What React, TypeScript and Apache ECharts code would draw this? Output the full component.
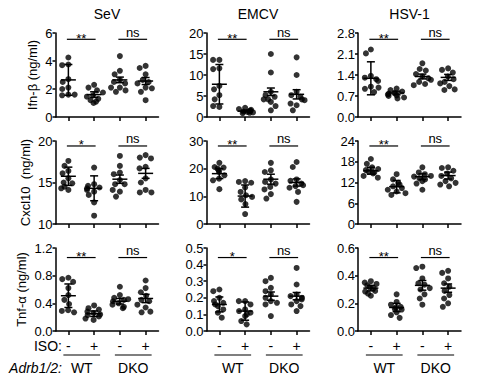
import React, { useEffect, useRef } from "react";
import * as echarts from "echarts";

const groups = ["WT -", "WT +", "DKO -", "DKO +"];
const isoSigns = ["-", "+", "-", "+"];
const genotypes = ["WT", "DKO"];
const viruses = ["SeV", "EMCV", "HSV-1"];
const yTitles = ["Ifn-β (ng/ml)", "Cxcl10  (ng/ml)", "Tnf-α (ng/ml)"];

// ---- Ifn-β ----
const ifnSeV = [
  [4.25, 3.75, 3.7, 2.7, 2.5, 2.1, 2.0, 1.6, 1.55, 1.6],
  [2.3, 2.1, 1.9, 1.75, 1.55, 1.45, 1.3, 1.2, 1.0, 1.1],
  [4.35, 3.3, 3.05, 2.65, 2.5, 2.4, 2.1, 2.1, 1.9, 1.8],
  [3.65, 3.5, 3.05, 2.65, 2.5, 2.4, 2.1, 2.05, 1.8, 1.2],
];
const ifnSeVMean = [2.65, 1.6, 2.65, 2.57];
const ifnSeVErr = [1.1, 0.2, 0.2, 0.25];
const ifnSeVTicks = [0, 2, 4, 6];

const ifnEMCV = [
  [13.6, 13.6, 11.6, 11.4, 7.4, 6.6, 5.2, 4.2, 2.4, 2.6],
  [2.2, 1.9, 1.7, 1.5, 1.3, 1.2, 1.1, 1.0, 0.9, 1.4],
  [15.0, 10.6, 6.0, 5.2, 4.8, 4.2, 4.2, 3.6, 2.6, 1.6],
  [14.2, 10.0, 6.0, 5.2, 4.8, 4.2, 4.0, 2.8, 1.6, 3.2],
];
const ifnEMCVMean = [7.8, 1.4, 6.0, 5.4];
const ifnEMCVErr = [4.7, 0.2, 0.9, 1.1];
const ifnEMCVTicks = [0, 5, 10, 15, 20];

const ifnHSV = [
  [2.25, 2.12, 1.37, 1.31, 1.26, 1.2, 1.01, 0.94, 0.83, 0.98],
  [0.95, 0.9, 0.85, 0.8, 0.78, 0.75, 0.72, 0.7, 0.65, 0.62],
  [1.79, 1.6, 1.55, 1.43, 1.35, 1.29, 1.24, 1.17, 1.1, 1.06],
  [1.62, 1.57, 1.48, 1.35, 1.26, 1.17, 1.12, 1.03, 0.9, 0.92],
];
const ifnHSVMean = [1.29, 0.8, 1.35, 1.32];
const ifnHSVErr = [0.55, 0.06, 0.08, 0.1];
const ifnHSVTicks = [0, 0.7, 1.4, 2.1, 2.8];

// ---- Cxcl10 ----
const cxclSeV = [
  [17.6, 17.0, 16.4, 16.1, 15.5, 15.0, 14.9, 14.5, 14.1, 14.3],
  [16.8, 14.8, 14.6, 14.4, 14.3, 14.1, 13.9, 13.5, 12.6, 11.0],
  [18.2, 17.0, 16.2, 16.0, 15.3, 14.8, 14.8, 13.9, 13.3, 14.1],
  [18.3, 18.0, 17.9, 16.9, 16.7, 15.5, 15.0, 14.1, 13.8, 13.8],
];
const cxclSeVMean = [15.75, 14.3, 15.4, 16.1];
const cxclSeVErr = [1.1, 1.5, 0.5, 0.6];
const cxclSeVTicks = [10, 15, 20];

const cxclEMCV = [
  [22.1, 20.6, 20.4, 20.0, 19.4, 18.8, 17.6, 16.4, 15.8, 12.6],
  [15.5, 15.2, 14.9, 13.2, 11.6, 10.4, 9.8, 8.9, 7.2, 3.6],
  [22.1, 19.4, 18.8, 16.1, 15.2, 14.6, 13.4, 12.5, 10.8, 9.2],
  [22.4, 20.6, 16.1, 15.6, 14.6, 14.0, 13.7, 13.1, 11.6, 8.0],
];
const cxclEMCVMean = [18.2, 10.1, 16.2, 15.0];
const cxclEMCVErr = [1.8, 4.0, 1.8, 1.3];
const cxclEMCVTicks = [0, 10, 20, 30];

const cxclHSV = [
  [18.8, 17.4, 16.4, 15.9, 15.6, 15.2, 14.6, 13.9, 13.4, 14.9],
  [14.4, 12.9, 11.9, 10.9, 10.4, 9.9, 9.4, 8.9, 8.4, 11.4],
  [16.4, 14.9, 14.4, 13.9, 13.7, 13.2, 12.4, 11.7, 9.9, 12.9],
  [16.4, 16.2, 15.4, 14.6, 13.9, 13.2, 12.4, 11.9, 10.9, 11.4],
];
const cxclHSVMean = [15.4, 10.8, 13.7, 14.0];
const cxclHSVErr = [1.0, 1.8, 0.8, 1.0];
const cxclHSVTicks = [0, 6, 12, 18, 24];

// ---- Tnf-α ----
const tnfSeV = [
  [0.77, 0.75, 0.71, 0.62, 0.52, 0.45, 0.39, 0.3, 0.27, 0.29],
  [0.37, 0.33, 0.31, 0.28, 0.26, 0.23, 0.21, 0.18, 0.16, 0.24],
  [0.64, 0.52, 0.48, 0.45, 0.43, 0.4, 0.38, 0.35, 0.33, 0.46],
  [0.73, 0.62, 0.56, 0.51, 0.45, 0.43, 0.38, 0.34, 0.27, 0.28],
];
const tnfSeVMean = [0.51, 0.25, 0.43, 0.47];
const tnfSeVErr = [0.17, 0.04, 0.04, 0.06];
const tnfSeVTicks = [0, 0.4, 0.8, 1.2];

const tnfEMCV = [
  [0.25, 0.24, 0.2, 0.18, 0.17, 0.16, 0.15, 0.13, 0.11, 0.08],
  [0.18, 0.18, 0.16, 0.13, 0.12, 0.11, 0.09, 0.06, 0.04, 0.1],
  [0.32, 0.3, 0.26, 0.24, 0.22, 0.2, 0.18, 0.17, 0.16, 0.09],
  [0.38, 0.28, 0.22, 0.21, 0.2, 0.19, 0.18, 0.16, 0.12, 0.15],
];
const tnfEMCVMean = [0.16, 0.12, 0.21, 0.21];
const tnfEMCVErr = [0.045, 0.055, 0.025, 0.022];
const tnfEMCVTicks = [0, 0.1, 0.2, 0.3, 0.4, 0.5];

const tnfHSV = [
  [0.36, 0.35, 0.34, 0.33, 0.315, 0.31, 0.29, 0.285, 0.27, 0.255],
  [0.265, 0.21, 0.19, 0.175, 0.17, 0.16, 0.155, 0.135, 0.115, 0.095],
  [0.465, 0.455, 0.38, 0.345, 0.335, 0.31, 0.3, 0.265, 0.235, 0.19],
  [0.435, 0.42, 0.38, 0.345, 0.32, 0.29, 0.26, 0.235, 0.2, 0.175],
];
const tnfHSVMean = [0.31, 0.17, 0.33, 0.31];
const tnfHSVErr = [0.02, 0.03, 0.035, 0.03];
const tnfHSVTicks = [0, 0.2, 0.4, 0.6];

const sigSeVIfn = ["**", "ns"];
const sigEMCVIfn = ["**", "ns"];
const sigHSVIfn = ["**", "ns"];
const sigSeVCxcl = ["*", "ns"];
const sigEMCVCxcl = ["**", "ns"];
const sigHSVCxcl = ["**", "ns"];
const sigSeVTnf = ["**", "ns"];
const sigEMCVTnf = ["*", "ns"];
const sigHSVTnf = ["**", "ns"];

const panels = [
  { pts: ifnSeV, mean: ifnSeVMean, err: ifnSeVErr, ticks: ifnSeVTicks, dec: 0, sig: sigSeVIfn },
  { pts: ifnEMCV, mean: ifnEMCVMean, err: ifnEMCVErr, ticks: ifnEMCVTicks, dec: 0, sig: sigEMCVIfn },
  { pts: ifnHSV, mean: ifnHSVMean, err: ifnHSVErr, ticks: ifnHSVTicks, dec: 1, sig: sigHSVIfn },
  { pts: cxclSeV, mean: cxclSeVMean, err: cxclSeVErr, ticks: cxclSeVTicks, dec: 0, sig: sigSeVCxcl },
  { pts: cxclEMCV, mean: cxclEMCVMean, err: cxclEMCVErr, ticks: cxclEMCVTicks, dec: 0, sig: sigEMCVCxcl },
  { pts: cxclHSV, mean: cxclHSVMean, err: cxclHSVErr, ticks: cxclHSVTicks, dec: 0, sig: sigHSVCxcl },
  { pts: tnfSeV, mean: tnfSeVMean, err: tnfSeVErr, ticks: tnfSeVTicks, dec: 1, sig: sigSeVTnf },
  { pts: tnfEMCV, mean: tnfEMCVMean, err: tnfEMCVErr, ticks: tnfEMCVTicks, dec: 1, sig: sigEMCVTnf },
  { pts: tnfHSV, mean: tnfHSVMean, err: tnfHSVErr, ticks: tnfHSVTicks, dec: 1, sig: sigHSVTnf },
];

// ---- layout ----
const FONT = '"Liberation Sans", Arial, Helvetica, sans-serif';
const COL_LEFT = [55.5, 206.5, 358];
const GRID_W = 103;
const ROW_TOP = [33, 141, 248];
const ROW_H = [84, 83, 83];
const BRACKET_FRAC = [0.925, 0.94, 0.885];
const NAME_GAP = [17, 24, 28];
const BLACK = "#000";

function buildOption() {
  const grid: any[] = [];
  const xAxis: any[] = [];
  const yAxis: any[] = [];
  const series: any[] = [];
  const graphic: any[] = [];
  const bw = GRID_W / 4;

  panels.forEach((p, i) => {
    const r = Math.floor(i / 3);
    const c = i % 3;
    const min = p.ticks[0];
    const max = p.ticks[p.ticks.length - 1];
    const interval = p.ticks[1] - p.ticks[0];
    grid.push({ left: COL_LEFT[c], top: ROW_TOP[r], width: GRID_W, height: ROW_H[r] });
    xAxis.push({
      gridIndex: i,
      type: "category",
      data: groups,
      boundaryGap: true,
      jitter: 18,
      jitterOverlap: false,
      jitterMargin: 0.3,
      axisLine: { lineStyle: { color: BLACK, width: 1.5 } },
      axisTick: { show: true, alignWithLabel: true, interval: 0, length: 4, lineStyle: { color: BLACK, width: 1.5 } },
      axisLabel:
        r === 2
          ? { show: true, interval: 0, margin: 8, color: BLACK, fontSize: 14, fontFamily: FONT, formatter: (_v: any, idx: number) => isoSigns[idx] }
          : { show: false },
      splitLine: { show: false },
    });
    yAxis.push({
      gridIndex: i,
      type: "value",
      min,
      max,
      interval,
      axisLine: { show: true, lineStyle: { color: BLACK, width: 1.5 } },
      axisTick: { show: true, length: 3, lineStyle: { color: BLACK, width: 1.5 } },
      axisLabel: {
        color: BLACK,
        fontSize: 13,
        fontFamily: FONT,
        margin: 3,
        formatter: (v: number) => v.toFixed(p.dec),
      },
      splitLine: { show: false },
      name: c === 0 ? yTitles[r] : "",
      nameLocation: "middle",
      nameGap: NAME_GAP[r],
      nameTextStyle: { color: BLACK, fontSize: 13, fontFamily: FONT },
    });

    const scatterData: any[] = [];
    p.pts.forEach((vals, g) => vals.forEach((v) => scatterData.push([g, v])));
    series.push({
      type: "scatter",
      xAxisIndex: i,
      yAxisIndex: i,
      symbol: "circle",
      symbolSize: 6,
      itemStyle: { color: BLACK },
      data: scatterData,
      z: 2,
    });

    series.push({
      type: "custom",
      xAxisIndex: i,
      yAxisIndex: i,
      z: 3,
      data: p.mean.map((m, g) => [g, m, p.err[g]]),
      encode: { x: 0, y: 1 },
      renderItem: (_params: any, api: any) => {
        const x = api.value(0);
        const m = api.value(1);
        const e = api.value(2);
        const cc = api.coord([x, m]);
        const t = api.coord([x, m + e]);
        const b = api.coord([x, m - e]);
        const st = { stroke: BLACK, lineWidth: 1.5 };
        return {
          type: "group",
          children: [
            { type: "line", shape: { x1: cc[0] - 7.5, y1: cc[1], x2: cc[0] + 7.5, y2: cc[1] }, style: st },
            { type: "line", shape: { x1: cc[0], y1: t[1], x2: cc[0], y2: b[1] }, style: st },
            { type: "line", shape: { x1: cc[0] - 4, y1: t[1], x2: cc[0] + 4, y2: t[1] }, style: st },
            { type: "line", shape: { x1: cc[0] - 4, y1: b[1], x2: cc[0] + 4, y2: b[1] }, style: st },
          ],
        };
      },
    });

    const level = min + BRACKET_FRAC[r] * (max - min);
    series.push({
      type: "custom",
      xAxisIndex: i,
      yAxisIndex: i,
      z: 3,
      clip: false,
      data: [
        [0, level, 1],
        [2, level, 3],
      ],
      encode: { x: 0, y: 1 },
      renderItem: (params: any, api: any) => {
        const a = api.coord([api.value(0), api.value(1)]);
        const b = api.coord([api.value(2), api.value(1)]);
        const label = p.sig[params.dataIndex];
        return {
          type: "group",
          children: [
            { type: "line", shape: { x1: a[0] - 1.5, y1: a[1], x2: b[0] + 1.5, y2: a[1] }, style: { stroke: BLACK, lineWidth: 1.2 } },
            {
              type: "text",
              x: (a[0] + b[0]) / 2,
              y: a[1] + (label === "ns" ? -7 : -1),
              style: {
                text: label,
                fill: BLACK,
                fontSize: 13,
                fontFamily: FONT,
                textAlign: "center",
                textVerticalAlign: "middle",
              },
            },
          ],
        };
      },
    });
  });

  // column titles
  viruses.forEach((v, c) => {
    graphic.push({
      type: "text",
      x: COL_LEFT[c] + GRID_W / 2,
      y: 14,
      style: { text: v, fill: BLACK, fontSize: 14, fontFamily: FONT, textAlign: "center", textVerticalAlign: "middle" },
    });
  });

  // bottom annotations
  const isoY = 346;
  const lineY = 355;
  const genoY = 368;
  const labelRight = 62;
  graphic.push({
    type: "text",
    x: labelRight,
    y: isoY,
    style: { text: "ISO:", fill: BLACK, fontSize: 14, fontFamily: FONT, textAlign: "right", textVerticalAlign: "middle" },
  });
  graphic.push({
    type: "text",
    x: labelRight,
    y: genoY,
    style: { text: "Adrb1/2:", fill: BLACK, fontSize: 14, fontStyle: "italic", fontFamily: FONT, textAlign: "right", textVerticalAlign: "middle" },
  });
  COL_LEFT.forEach((left) => {
    genotypes.forEach((gname, k) => {
      const x0 = left + bw * (2 * k + 0.5);
      const x1 = left + bw * (2 * k + 1.5);
      graphic.push({
        type: "line",
        shape: { x1: x0 - 5, y1: lineY, x2: x1 + 6, y2: lineY },
        style: { stroke: BLACK, lineWidth: 1.2 },
      });
      graphic.push({
        type: "text",
        x: (x0 + x1) / 2 + 0.5,
        y: genoY,
        style: { text: gname, fill: BLACK, fontSize: 14, fontFamily: FONT, textAlign: "center", textVerticalAlign: "middle" },
      });
    });
  });

  return {
    animation: false,
    backgroundColor: "#fff",
    grid,
    xAxis,
    yAxis,
    series,
    graphic,
  };
}

export default function App() {
  const ref = useRef<HTMLDivElement>(null);
  useEffect(() => {
    if (!ref.current) return;
    const chart = echarts.init(ref.current, null, { renderer: "svg" });
    chart.setOption(buildOption() as any);
    return () => chart.dispose();
  }, []);
  return <div ref={ref} style={{ position: "absolute", left: 0, top: 0, width: 477, height: 390 }} />;
}
